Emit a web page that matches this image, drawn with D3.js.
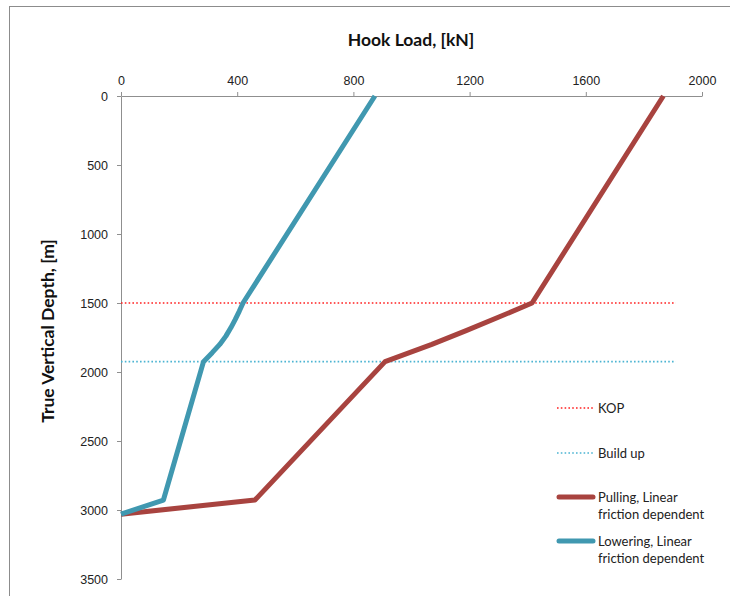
<!DOCTYPE html>
<html>
<head>
<meta charset="utf-8">
<script src="https://cdn.jsdelivr.net/npm/d3@7"></script>
<style>
  html, body { margin: 0; padding: 0; background: #fff; }
  svg { display: block; }
  .tick text { font-family: "Liberation Sans", Arial, sans-serif; font-size: 12.5px; fill: #222; }
  .axis path, .axis line { stroke: #8f8f8f; }
</style>
</head>
<body>
<svg id="chart" width="730" height="596"></svg>
<script>
// Hook load versus true vertical depth for pulling and lowering operations
const xTicks = [0, 400, 800, 1200, 1600, 2000];
const yTicks = [0, 500, 1000, 1500, 2000, 2500, 3000, 3500];

// Pulling (POOH), linear friction dependent: depth [m] and hook load [kN]
const pullingDepth = [0, 1500, 1600, 1700, 1800, 1925, 2928, 3030];
const pullingLoad  = [1867, 1415, 1303, 1188, 1070, 909, 461, 0];

// Lowering (RIH), linear friction dependent
const loweringDepth = [0, 1500, 1560, 1620, 1680, 1740, 1800, 1860, 1925, 2928, 3030];
const loweringLoad  = [874, 420, 407, 393, 378, 361, 340, 314, 284, 146, 0];

// Reference depths: kick-off point and end of build-up section
const kopDepth = 1500;
const buildUpDepth = 1925;
const refLineEndLoad = 1910;

const legendLabels = [
  ["KOP"],
  ["Build up"],
  ["Pulling, Linear", "friction dependent"],
  ["Lowering, Linear", "friction dependent"]
];

const colors = {
  pulling: "#a8433f",
  lowering: "#4098b0",
  kop: "#ff2020",
  build: "#4bb4d2"
};

const svg = d3.select("#chart");

// outer chart frame
svg.append("rect")
  .attr("x", 9.5).attr("y", 6.5)
  .attr("width", 800).attr("height", 700)
  .attr("fill", "none").attr("stroke", "#8c8c8c").attr("stroke-width", 1);

const x = d3.scaleLinear().domain([0, 2000]).range([121, 702]);
const y = d3.scaleLinear().domain([0, 3500]).range([96, 579]);

// axes
svg.append("g")
  .attr("class", "axis")
  .attr("transform", `translate(0,${y(0)})`)
  .call(d3.axisTop(x).tickValues(xTicks).tickSize(4).tickPadding(7).tickSizeOuter(0).tickFormat(d3.format("d")));

svg.append("g")
  .attr("class", "axis")
  .attr("transform", `translate(${x(0)},0)`)
  .call(d3.axisLeft(y).tickValues(yTicks).tickSize(4).tickPadding(9).tickSizeOuter(0).tickFormat(d3.format("d")));

// reference depth lines
const refLines = [
  { depth: kopDepth, color: colors.kop },
  { depth: buildUpDepth, color: colors.build }
];
svg.append("g").selectAll("line")
  .data(refLines)
  .join("line")
  .attr("x1", x(0)).attr("x2", x(refLineEndLoad))
  .attr("y1", d => y(d.depth)).attr("y2", d => y(d.depth))
  .attr("stroke", d => d.color)
  .attr("stroke-width", 1.6)
  .attr("stroke-dasharray", "1.6,2.2");

// load curves
const line = d3.line().x(d => x(d[1])).y(d => y(d[0]));
const series = [
  { depth: pullingDepth, load: pullingLoad, color: colors.pulling },
  { depth: loweringDepth, load: loweringLoad, color: colors.lowering }
];
svg.append("g").selectAll("path")
  .data(series)
  .join("path")
  .attr("d", s => line(s.depth.map((d, i) => [d, s.load[i]])))
  .attr("fill", "none")
  .attr("stroke", s => s.color)
  .attr("stroke-width", 5)
  .attr("stroke-linejoin", "round");

// titles
svg.append("text")
  .attr("x", 411).attr("y", 46)
  .attr("text-anchor", "middle")
  .attr("font-family", "Lato, sans-serif")
  .attr("font-weight", "bold")
  .attr("font-size", 17.5)
  .attr("fill", "#111")
  .text("Hook Load, [kN]");

svg.append("text")
  .attr("transform", "translate(54,331) rotate(-90)")
  .attr("text-anchor", "middle")
  .attr("font-family", "Lato, sans-serif")
  .attr("font-weight", "bold")
  .attr("font-size", 17.5)
  .attr("fill", "#111")
  .text("True Vertical Depth, [m]");

// legend
const legendY = [408, 453, 497, 541];
const legendStyles = [
  { color: colors.kop, width: 1.6, dash: "1.6,2.2", cap: "butt" },
  { color: colors.build, width: 1.6, dash: "1.6,2.2", cap: "butt" },
  { color: colors.pulling, width: 5, dash: null, cap: "round" },
  { color: colors.lowering, width: 5, dash: null, cap: "round" }
];
const legend = svg.append("g")
  .selectAll("g")
  .data(legendLabels)
  .join("g")
  .attr("transform", (d, i) => `translate(0,${legendY[i]})`);

legend.append("line")
  .attr("x1", (d, i) => legendStyles[i].cap === "round" ? 559 : 557)
  .attr("x2", (d, i) => legendStyles[i].cap === "round" ? 593 : 595)
  .attr("y1", 0).attr("y2", 0)
  .attr("stroke", (d, i) => legendStyles[i].color)
  .attr("stroke-width", (d, i) => legendStyles[i].width)
  .attr("stroke-dasharray", (d, i) => legendStyles[i].dash)
  .attr("stroke-linecap", (d, i) => legendStyles[i].cap);

legend.append("text")
  .attr("x", 598)
  .attr("font-family", "Lato, sans-serif")
  .attr("font-size", 13)
  .attr("fill", "#222")
  .selectAll("tspan")
  .data(d => d)
  .join("tspan")
  .attr("x", 598)
  .attr("y", (d, i) => 4.5 + i * 17.5)
  .text(d => d);
</script>
</body>
</html>
